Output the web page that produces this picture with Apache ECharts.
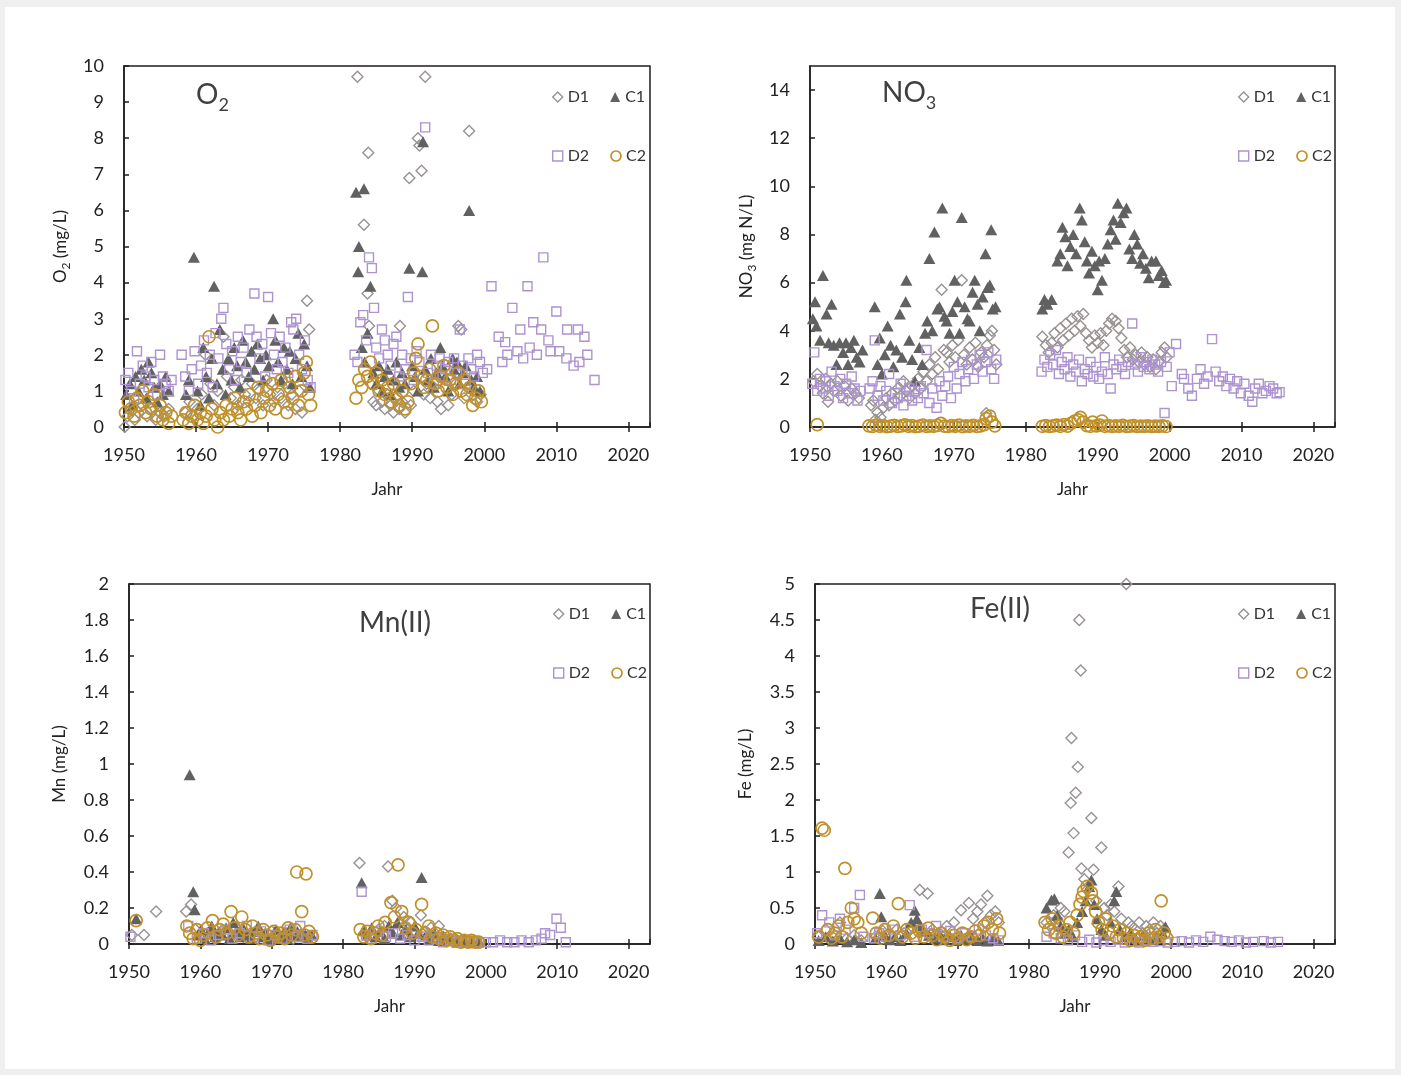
<!DOCTYPE html>
<html>
<head>
<meta charset="utf-8">
<script src="https://cdn.jsdelivr.net/npm/echarts@6/dist/echarts.min.js"></script>
<style>
html, body { margin: 0; padding: 0; background: #efefef; }
#chart { width: 1401px; height: 1075px; }
</style>
</head>
<body>
<div id="chart"></div>
<script>
// ---- O2 (mg/L) ----
const o2D1 = [
  [1950.1,0.0],[1950.5,0.3],[1951.0,0.5],[1951.5,0.2],[1952.0,0.4],[1952.6,0.6],[1953.2,0.3],[1953.8,0.5],[1954.4,0.2],[1955.0,0.4],[1955.6,0.3],[1956.2,0.5],
  [1958.5,0.4],[1959.1,0.7],[1959.6,0.3],[1960.2,0.5],[1960.8,0.9],[1961.3,2.0],[1962.0,1.2],[1962.5,0.6],[1963.0,1.0],[1963.8,2.5],[1964.3,1.4],[1964.8,0.8],[1965.3,1.1],[1965.8,0.6],[1966.3,1.3],[1966.8,0.9],[1967.3,0.7],[1967.8,1.2],[1968.3,0.8],[1968.8,1.0],[1969.3,0.6],[1969.8,1.3],[1970.3,0.9],[1970.8,0.7],[1971.3,1.1],[1971.8,0.8],[1972.3,1.2],[1972.8,0.6],[1973.3,0.9],[1973.8,0.5],[1974.3,1.0],[1974.7,0.4],[1975.4,3.5],[1975.7,2.7],
  [1982.4,9.7],[1983.3,5.6],[1983.8,3.7],[1983.9,7.6],[1984.0,2.8],[1984.2,1.2],[1984.6,0.7],[1985.0,0.6],[1985.4,1.0],[1985.8,0.7],[1986.2,0.5],[1986.6,0.9],[1987.0,0.6],[1987.4,0.4],[1987.8,0.8],[1988.2,0.5],[1988.3,2.8],[1988.6,0.7],[1989.0,0.4],[1989.6,6.9],[1989.8,0.6],[1990.2,1.0],[1990.8,8.0],[1991.0,7.8],[1991.3,7.1],[1991.8,9.7],[1991.6,0.9],[1992.0,1.2],[1992.5,0.8],[1993.0,1.1],[1993.5,0.7],[1994.0,0.5],[1994.5,1.3],[1995.0,0.6],[1995.5,0.9],[1996.0,1.2],[1996.4,2.8],[1996.8,2.7],[1997.2,0.8],[1997.9,8.2],[1998.4,1.0],[1999.0,0.7],[1999.5,0.9]
];
const o2C1 = [
  [1950.3,0.9],[1950.8,1.2],[1951.2,0.6],[1951.6,1.4],[1952.0,1.0],[1952.4,1.6],[1952.8,1.3],[1953.1,0.8],[1953.4,1.8],[1953.8,1.5],[1954.2,1.1],[1954.6,0.7],[1955.0,1.2],[1955.4,0.9],[1955.8,1.4],[1956.2,1.0],
  [1958.6,0.9],[1959.0,1.3],[1959.7,4.7],[1960.2,1.0],[1960.6,0.6],[1961.0,2.2],[1961.4,1.4],[1961.8,0.8],[1962.2,1.9],[1962.5,3.9],[1962.9,1.2],[1963.3,2.7],[1963.7,1.6],[1964.1,0.9],[1964.5,1.9],[1964.9,1.3],[1965.3,2.2],[1965.7,1.7],[1966.1,1.1],[1966.5,2.4],[1966.9,1.8],[1967.3,1.4],[1967.7,2.1],[1968.1,1.6],[1968.5,2.3],[1968.9,1.9],[1969.3,1.3],[1969.7,2.0],[1970.1,1.7],[1970.7,3.0],[1971.0,2.4],[1971.4,1.8],[1971.8,1.3],[1972.2,2.2],[1972.6,1.6],[1973.0,2.1],[1973.4,1.2],[1973.8,1.9],[1974.2,2.6],[1974.6,1.4],[1975.0,2.3],[1975.4,1.7],[1975.8,1.1],
  [1982.2,6.5],[1982.5,4.3],[1982.6,5.0],[1983.3,6.6],[1983.0,2.2],[1983.4,1.8],[1983.8,2.6],[1984.2,3.9],[1984.6,1.5],[1985.0,1.2],[1985.4,1.7],[1985.8,1.0],[1986.2,1.4],[1986.6,1.6],[1987.0,0.9],[1987.4,1.3],[1987.8,1.8],[1988.2,1.1],[1988.6,1.5],[1989.0,1.2],[1989.6,4.4],[1990.0,1.7],[1990.4,1.4],[1990.8,1.0],[1991.4,4.3],[1991.5,7.9],[1991.8,1.6],[1992.2,1.3],[1992.6,1.9],[1993.0,1.1],[1993.4,1.5],[1993.9,2.2],[1994.2,1.7],[1994.6,1.4],[1995.0,1.0],[1995.6,1.9],[1995.8,1.6],[1996.2,1.8],[1996.6,1.2],[1997.0,1.5],[1997.4,1.7],[1997.9,6.0],[1998.2,1.3],[1998.6,1.1],[1999.0,1.4],[1999.4,1.0]
];
const o2D2 = [
  [1950.2,1.3],[1950.6,1.5],[1951.0,1.0],[1951.4,0.8],[1951.8,2.1],[1952.2,1.2],[1952.6,1.7],[1953.0,1.4],[1953.4,1.1],[1953.8,1.8],[1954.2,1.3],[1954.6,0.9],[1955.0,2.0],[1955.4,1.4],[1955.8,1.2],[1956.2,1.0],[1956.6,1.3],
  [1958.0,2.0],[1958.5,1.4],[1959.0,1.0],[1959.4,1.6],[1959.8,2.1],[1960.3,1.2],[1960.7,1.7],[1961.1,2.4],[1961.5,1.5],[1961.9,2.0],[1962.3,1.1],[1962.7,2.6],[1963.1,1.9],[1963.5,3.0],[1963.8,3.3],[1964.2,2.3],[1964.6,1.6],[1965.0,2.1],[1965.4,1.3],[1965.8,2.5],[1966.2,1.8],[1966.6,2.2],[1967.0,1.5],[1967.4,2.7],[1968.1,3.7],[1968.4,2.5],[1968.8,1.9],[1969.2,2.3],[1969.6,1.4],[1970.0,3.6],[1970.4,2.6],[1970.8,2.0],[1971.2,1.6],[1971.6,2.5],[1972.0,1.8],[1972.4,2.2],[1972.8,1.5],[1973.2,2.9],[1973.5,2.7],[1973.9,3.0],[1974.3,2.0],[1974.7,1.6],[1975.1,2.4],[1975.5,1.3],[1975.9,1.1],
  [1982.0,2.0],[1982.4,1.8],[1982.8,2.9],[1983.2,3.1],[1983.6,2.4],[1984.0,4.7],[1984.4,4.4],[1984.7,3.3],[1985.0,2.2],[1985.4,1.9],[1985.8,2.7],[1986.2,2.4],[1986.6,2.0],[1987.0,1.7],[1987.4,2.3],[1987.8,2.5],[1988.2,1.4],[1988.6,2.0],[1989.0,1.6],[1989.4,3.6],[1989.8,1.9],[1990.2,1.3],[1990.6,2.1],[1991.0,1.8],[1991.8,8.3],[1992.2,1.5],[1992.6,2.0],[1993.0,1.2],[1993.4,1.7],[1993.8,1.9],[1994.2,1.4],[1994.6,1.6],[1995.0,1.8],[1995.4,1.3],[1995.8,1.9],[1996.2,1.5],[1996.6,2.7],[1997.0,1.7],[1997.4,1.2],[1997.8,1.9],[1998.2,1.6],[1998.6,1.4],[1999.0,2.0],[1999.4,1.8],[1999.8,1.5],
  [2000.4,1.6],[2001.0,3.9],[2002.0,2.5],[2002.5,1.8],[2002.9,2.35],[2003.2,2.0],[2003.9,3.3],[2004.6,2.1],[2005.0,2.7],[2005.4,1.9],[2006.0,3.9],[2006.3,2.2],[2006.8,2.9],[2007.3,2.0],[2007.9,2.7],[2008.2,4.7],[2008.9,2.4],[2009.2,2.1],[2010.0,3.2],[2010.4,2.1],[2011.4,1.9],[2011.5,2.7],[2012.4,1.7],[2013.0,2.7],[2013.2,1.8],[2013.9,2.5],[2014.3,2.0],[2015.3,1.3]
];
const o2C2 = [
  [1950.2,0.4],[1950.6,0.7],[1951.0,0.5],[1951.4,0.3],[1951.8,0.8],[1952.2,0.6],[1952.6,1.0],[1953.0,0.4],[1953.4,0.7],[1953.8,0.5],[1954.2,0.9],[1954.6,0.3],[1955.0,0.6],[1955.4,0.2],[1955.8,0.4],[1956.2,0.1],[1956.6,0.3],
  [1958.2,0.2],[1958.6,0.4],[1959.0,0.1],[1959.4,0.3],[1959.8,0.6],[1960.2,0.2],[1960.6,0.4],[1961.0,0.1],[1961.4,0.3],[1961.8,2.5],[1962.2,0.5],[1962.6,0.2],[1963.0,0.0],[1963.4,0.4],[1963.8,0.2],[1964.2,0.6],[1964.6,0.3],[1965.0,0.5],[1965.4,0.8],[1965.8,0.4],[1966.2,0.2],[1966.6,0.7],[1967.0,0.5],[1967.4,0.9],[1967.8,0.3],[1968.2,0.6],[1968.6,1.1],[1969.0,0.4],[1969.4,0.8],[1969.8,1.0],[1970.2,0.6],[1970.6,1.2],[1971.0,0.5],[1971.4,0.9],[1971.8,1.3],[1972.2,0.7],[1972.6,0.4],[1973.0,1.1],[1973.4,0.8],[1973.8,1.4],[1974.2,0.6],[1974.6,1.0],[1975.0,1.5],[1975.3,1.8],[1975.6,0.9],[1975.9,0.6],
  [1982.2,0.8],[1982.6,1.3],[1983.0,1.1],[1983.4,1.6],[1983.8,1.4],[1984.2,1.8],[1984.6,1.2],[1985.0,1.5],[1985.4,1.0],[1985.8,1.3],[1986.2,0.9],[1986.6,1.1],[1987.0,0.7],[1987.4,1.2],[1987.8,0.8],[1988.2,0.6],[1988.6,1.0],[1989.0,0.5],[1989.4,0.7],[1989.8,1.2],[1990.2,1.5],[1990.5,1.9],[1990.8,2.3],[1991.2,1.4],[1991.6,1.1],[1992.0,1.3],[1992.4,1.6],[1992.8,2.8],[1993.2,1.2],[1993.6,1.0],[1994.0,1.4],[1994.4,1.7],[1994.8,1.1],[1995.2,1.3],[1995.6,0.9],[1996.0,1.2],[1996.4,1.5],[1996.8,1.0],[1997.2,1.3],[1997.6,0.9],[1998.0,1.1],[1998.4,0.6],[1998.8,0.8],[1999.2,1.0],[1999.6,0.7]
];

// ---- NO3 (mg N/L) ----
const no3D1 = [
  [1950.5,1.9],[1951.0,2.2],[1951.4,1.7],[1951.8,1.4],[1952.2,2.0],[1952.5,1.05],[1952.9,1.8],[1953.3,1.5],[1953.8,1.9],[1954.3,1.3],[1954.8,1.7],[1955.3,1.1],[1955.8,1.6],[1956.3,1.4],[1956.8,1.2],
  [1958.5,0.9],[1958.8,1.1],[1959.1,0.3],[1959.4,0.6],[1959.8,0.4],[1960.2,0.8],[1960.6,1.2],[1961.0,0.9],[1961.4,1.4],[1961.8,1.1],[1962.2,1.6],[1962.6,1.3],[1963.0,1.9],[1963.4,1.5],[1963.8,1.2],[1964.2,1.7],[1964.6,1.4],[1965.0,2.0],[1965.4,1.6],[1965.8,2.3],[1966.2,1.9],[1966.6,2.6],[1967.0,2.2],[1967.4,2.9],[1967.8,2.4],[1968.3,5.7],[1968.6,3.2],[1969.0,3.1],[1969.4,2.7],[1969.8,3.4],[1970.2,2.9],[1970.6,3.6],[1971.1,6.1],[1971.4,3.0],[1971.8,2.6],[1972.2,3.3],[1972.6,2.8],[1973.0,3.5],[1973.4,2.5],[1973.8,3.1],[1974.2,2.9],[1974.5,0.57],[1974.6,3.4],[1975.0,3.8],[1975.3,4.0],[1975.6,3.2],[1975.9,2.6],
  [1982.3,3.75],[1982.8,3.4],[1983.2,3.1],[1983.6,3.5],[1984.0,3.9],[1984.4,3.3],[1984.8,4.1],[1985.2,3.6],[1985.6,4.3],[1986.0,3.8],[1986.4,4.5],[1986.8,4.0],[1987.2,4.6],[1987.6,4.2],[1988.0,4.7],[1988.4,3.9],[1988.8,3.6],[1989.2,3.3],[1989.6,3.8],[1990.0,3.5],[1990.4,3.9],[1990.8,3.4],[1991.2,4.0],[1991.6,4.3],[1992.0,4.5],[1992.5,4.4],[1992.9,4.1],[1993.3,3.7],[1993.7,3.2],[1994.1,2.9],[1994.5,3.3],[1994.9,2.8],[1995.3,3.0],[1995.7,2.7],[1996.1,3.1],[1996.5,2.6],[1996.9,2.9],[1997.3,2.5],[1997.7,2.8],[1998.1,2.4],[1998.5,2.7],[1998.9,3.1],[1999.3,3.3],[1999.6,2.9]
];
const no3C1 = [
  [1950.4,4.5],[1950.7,5.2],[1950.9,4.2],[1951.4,3.6],[1951.8,6.3],[1952.3,4.7],[1952.6,3.5],[1953.0,5.1],[1953.3,3.4],[1953.7,2.6],[1954.1,3.5],[1954.6,3.1],[1955.0,3.5],[1955.3,2.6],[1955.7,3.3],[1956.1,3.6],[1956.5,2.9],[1956.9,2.7],[1957.3,3.2],
  [1959.0,5.0],[1959.4,2.6],[1959.7,3.7],[1960.0,2.2],[1960.4,3.0],[1960.8,4.2],[1961.2,3.4],[1961.6,2.5],[1962.0,3.2],[1962.5,4.7],[1962.8,2.9],[1963.3,5.2],[1963.4,6.1],[1963.8,3.6],[1964.2,2.8],[1964.6,1.9],[1965.2,3.3],[1965.6,2.6],[1966.0,3.9],[1966.3,4.4],[1966.6,7.0],[1967.0,4.0],[1967.3,8.1],[1967.7,4.9],[1968.0,5.0],[1968.4,9.1],[1968.7,4.6],[1969.0,4.4],[1969.4,3.9],[1969.8,4.8],[1970.1,6.1],[1970.5,5.2],[1970.8,3.9],[1971.1,8.7],[1971.5,5.0],[1971.9,4.5],[1972.2,4.4],[1972.6,5.6],[1972.9,6.1],[1973.3,5.1],[1973.6,4.0],[1974.0,5.4],[1974.4,7.2],[1974.7,5.8],[1975.0,5.9],[1975.2,8.2],[1975.4,4.9],[1975.8,5.0],
  [1982.3,4.9],[1982.6,5.3],[1983.0,5.1],[1983.6,5.3],[1984.4,6.9],[1984.8,7.2],[1985.1,8.3],[1985.5,7.9],[1985.8,6.7],[1986.2,7.5],[1986.6,8.0],[1987.0,7.2],[1987.5,9.1],[1987.8,8.6],[1988.2,7.7],[1988.5,6.9],[1988.8,6.4],[1989.2,7.3],[1989.6,6.7],[1990.0,5.7],[1990.2,6.9],[1990.6,6.1],[1991.0,7.0],[1991.4,7.6],[1991.8,8.2],[1992.2,8.6],[1992.5,7.8],[1992.8,9.3],[1993.2,8.5],[1993.6,8.9],[1994.0,9.1],[1994.4,7.4],[1994.8,7.0],[1995.1,8.0],[1995.5,7.6],[1995.9,6.8],[1996.3,7.2],[1996.7,6.6],[1997.1,6.2],[1997.5,6.9],[1998.1,6.9],[1998.5,6.3],[1998.9,6.5],[1999.2,6.0],[1999.5,6.1]
];
const no3D2 = [
  [1950.3,1.8],[1950.6,3.1],[1951.0,1.5],[1951.4,2.0],[1951.8,1.6],[1952.2,1.9],[1952.6,1.3],[1953.0,2.3],[1953.4,1.7],[1953.8,1.5],[1954.2,2.0],[1954.6,1.2],[1955.0,1.8],[1955.4,1.4],[1955.8,2.1],[1956.2,1.6],[1956.6,1.1],[1957.0,1.5],
  [1958.3,1.6],[1958.7,1.9],[1959.0,3.6],[1959.4,1.3],[1959.8,1.7],[1960.2,1.1],[1960.6,1.5],[1961.0,2.2],[1961.4,1.0],[1961.8,1.4],[1962.2,1.2],[1962.6,1.8],[1963.0,0.9],[1963.4,1.3],[1963.8,1.6],[1964.2,1.1],[1964.6,1.5],[1965.0,1.2],[1965.4,1.7],[1965.8,1.4],[1966.2,3.2],[1966.6,1.0],[1967.0,1.6],[1967.6,0.8],[1968.0,1.9],[1968.4,1.3],[1968.8,1.7],[1969.2,2.1],[1969.6,1.2],[1970.0,2.5],[1970.4,1.6],[1970.8,2.2],[1971.2,2.7],[1971.6,1.9],[1972.0,2.4],[1972.4,2.8],[1972.8,2.0],[1973.2,2.6],[1973.6,3.0],[1974.0,2.3],[1974.4,2.7],[1974.8,3.1],[1975.2,2.4],[1975.6,2.0],[1975.9,2.8],
  [1982.2,2.3],[1982.6,2.8],[1983.0,2.5],[1983.4,3.0],[1983.8,2.6],[1984.2,3.2],[1984.6,2.2],[1985.0,2.7],[1985.4,2.4],[1985.8,2.9],[1986.2,2.1],[1986.6,2.6],[1987.0,2.3],[1987.4,2.8],[1987.8,1.9],[1988.2,2.4],[1988.6,2.2],[1989.0,2.7],[1989.4,2.1],[1989.8,2.5],[1990.2,2.0],[1990.6,2.3],[1991.0,2.9],[1991.4,2.2],[1991.8,1.6],[1992.2,2.6],[1992.6,2.4],[1993.0,2.8],[1993.4,2.5],[1993.8,2.2],[1994.2,2.7],[1994.8,4.3],[1995.2,2.6],[1995.6,2.3],[1996.0,2.9],[1996.4,2.5],[1996.8,2.7],[1997.2,2.4],[1997.6,2.8],[1998.0,2.6],[1998.4,2.3],[1998.8,2.7],[1999.3,0.58],[1999.6,2.5],[2000.0,3.1],
  [2000.3,1.7],[2000.9,3.45],[2001.7,2.2],[2002.0,2.0],[2002.6,1.6],[2003.1,1.3],[2003.8,2.0],[2004.3,2.4],[2004.8,1.8],[2005.3,2.1],[2005.9,3.65],[2006.4,2.3],[2006.9,1.9],[2007.4,2.1],[2007.9,1.7],[2008.4,2.0],[2008.9,1.6],[2009.4,1.9],[2009.9,1.4],[2010.4,1.8],[2011.0,1.3],[2011.5,1.05],[2011.9,1.6],[2012.4,1.8],[2012.9,1.4],[2013.4,1.5],[2013.9,1.7],[2014.4,1.6],[2014.9,1.4],[2015.3,1.45]
];
const no3C2 = [
  [1951.0,0.1],
  [1958.2,0.05],[1958.7,0.02],[1959.2,0.08],[1959.7,0.03],[1960.2,0.06],[1960.7,0.01],[1961.2,0.04],[1961.7,0.07],[1962.2,0.02],[1962.7,0.05],[1963.2,0.09],[1963.7,0.03],[1964.2,0.06],[1964.7,0.01],[1965.2,0.04],[1965.7,0.08],[1966.2,0.02],[1966.7,0.05],[1967.2,0.03],[1967.7,0.07],[1968.2,0.15],[1968.7,0.04],[1969.2,0.02],[1969.7,0.06],[1970.2,0.03],[1970.7,0.08],[1971.2,0.01],[1971.7,0.05],[1972.2,0.03],[1972.7,0.07],[1973.2,0.02],[1973.7,0.05],[1974.2,0.1],[1974.5,0.35],[1975.0,0.45],[1975.3,0.2],[1975.7,0.05],
  [1982.3,0.03],[1982.8,0.06],[1983.3,0.02],[1983.8,0.05],[1984.3,0.08],[1984.8,0.03],[1985.3,0.1],[1985.8,0.04],[1986.3,0.15],[1986.8,0.25],[1987.3,0.3],[1987.6,0.4],[1988.0,0.2],[1988.5,0.06],[1989.0,0.03],[1989.3,0.2],[1989.8,0.05],[1990.3,0.08],[1990.6,0.25],[1991.0,0.03],[1991.5,0.06],[1992.0,0.02],[1992.5,0.05],[1993.0,0.03],[1993.5,0.07],[1994.0,0.02],[1994.5,0.04],[1995.0,0.06],[1995.5,0.02],[1996.0,0.04],[1996.5,0.03],[1997.0,0.05],[1997.5,0.02],[1998.0,0.04],[1998.5,0.03],[1999.0,0.05],[1999.5,0.02]
];

// ---- Mn (mg/L) ----
const mnD1 = [
  [1950.4,0.05],[1952.1,0.05],[1953.8,0.18],[1958.0,0.18],[1958.7,0.22],[1959.3,0.08],[1960.2,0.04],[1961.0,0.06],[1962.0,0.03],[1963.0,0.07],[1964.0,0.05],[1965.0,0.09],[1966.0,0.04],[1967.0,0.06],[1968.0,0.03],[1969.0,0.05],[1970.0,0.07],[1971.0,0.04],[1972.0,0.06],[1973.0,0.03],[1974.0,0.05],[1975.0,0.04],
  [1982.3,0.45],[1983.0,0.06],[1984.0,0.04],[1985.0,0.08],[1985.8,0.1],[1986.3,0.43],[1986.9,0.24],[1987.4,0.2],[1988.0,0.12],[1988.5,0.15],[1989.0,0.08],[1989.5,0.12],[1990.0,0.06],[1990.9,0.16],[1991.5,0.07],[1992.3,0.09],[1993.4,0.1],[1994.0,0.04],[1995.0,0.03],[1996.0,0.02],[1997.0,0.02],[1998.0,0.01]
];
const mnC1 = [
  [1951.0,0.14],[1958.5,0.94],[1959.0,0.29],[1959.2,0.19],[1959.6,0.05],[1960.1,0.08],[1960.6,0.03],[1961.1,0.06],[1961.6,0.1],[1962.1,0.04],[1962.6,0.07],[1963.1,0.05],[1963.6,0.09],[1964.1,0.03],[1964.6,0.12],[1965.1,0.06],[1965.6,0.04],[1966.1,0.08],[1966.6,0.05],[1967.1,0.03],[1967.6,0.07],[1968.1,0.1],[1968.6,0.04],[1969.1,0.06],[1969.6,0.03],[1970.1,0.05],[1970.6,0.08],[1971.1,0.04],[1971.6,0.06],[1972.1,0.03],[1972.6,0.09],[1973.1,0.05],[1973.6,0.07],[1974.1,0.04],[1974.6,0.06],[1975.1,0.03],[1975.6,0.05],
  [1982.6,0.34],[1982.9,0.08],[1983.4,0.05],[1984.0,0.09],[1984.6,0.04],[1985.2,0.07],[1985.8,0.03],[1986.4,0.1],[1987.0,0.06],[1987.6,0.12],[1988.2,0.05],[1988.8,0.08],[1989.4,0.04],[1990.0,0.1],[1990.5,0.06],[1991.0,0.37],[1991.6,0.05],[1992.2,0.03],[1992.8,0.06],[1993.4,0.02],[1994.0,0.04],[1994.6,0.02],[1995.2,0.03],[1996.0,0.01],[1997.0,0.02],[1998.0,0.01],[1999.0,0.02]
];
const mnD2 = [
  [1950.2,0.04],[1958.3,0.1],[1959.5,0.03],[1960.5,0.06],[1961.5,0.02],[1962.5,0.05],[1963.5,0.08],[1964.5,0.03],[1965.5,0.06],[1966.5,0.1],[1967.5,0.04],[1968.5,0.07],[1969.5,0.02],[1970.5,0.05],[1971.5,0.03],[1972.5,0.08],[1973.5,0.04],[1974.0,0.1],[1975.0,0.03],[1975.7,0.05],
  [1982.6,0.29],[1983.2,0.05],[1984.0,0.03],[1985.0,0.07],[1986.0,0.04],[1987.0,0.06],[1988.0,0.03],[1989.0,0.05],[1990.0,0.02],[1991.0,0.04],[1992.0,0.02],[1993.0,0.03],[1994.0,0.01],[1995.0,0.02],[1996.0,0.01],[1997.0,0.01],[1998.0,0.02],[1999.0,0.01],[2000.0,0.01],
  [2001.0,0.01],[2002.0,0.02],[2003.0,0.01],[2004.0,0.01],[2005.0,0.02],[2006.0,0.01],[2007.0,0.02],[2007.8,0.03],[2008.3,0.06],[2009.0,0.05],[2009.9,0.14],[2010.5,0.09],[2011.2,0.01]
];
const mnC2 = [
  [1951.0,0.13],[1958.1,0.1],[1958.5,0.06],[1959.0,0.03],[1959.5,0.08],[1960.0,0.02],[1960.5,0.05],[1961.0,0.09],[1961.7,0.13],[1962.2,0.04],[1962.7,0.08],[1963.2,0.11],[1963.7,0.06],[1964.3,0.18],[1964.8,0.09],[1965.3,0.05],[1965.8,0.15],[1966.3,0.08],[1966.8,0.04],[1967.3,0.1],[1967.8,0.06],[1968.3,0.03],[1968.8,0.08],[1969.3,0.05],[1969.8,0.02],[1970.3,0.07],[1970.8,0.04],[1971.3,0.06],[1971.8,0.03],[1972.3,0.09],[1972.8,0.05],[1973.3,0.08],[1973.5,0.40],[1974.2,0.18],[1974.6,0.05],[1974.8,0.39],[1975.2,0.07],[1975.7,0.04],
  [1982.4,0.08],[1982.9,0.04],[1983.4,0.07],[1983.9,0.03],[1984.4,0.06],[1984.9,0.1],[1985.4,0.05],[1985.9,0.12],[1986.7,0.23],[1987.2,0.15],[1987.7,0.44],[1988.2,0.18],[1988.7,0.09],[1989.2,0.12],[1989.7,0.06],[1990.2,0.08],[1991.0,0.22],[1991.5,0.06],[1992.0,0.1],[1992.5,0.04],[1993.0,0.06],[1993.5,0.03],[1994.0,0.05],[1994.5,0.02],[1995.0,0.04],[1995.5,0.02],[1996.0,0.03],[1996.5,0.01],[1997.0,0.02],[1997.5,0.01],[1998.0,0.02],[1998.5,0.01],[1999.0,0.01]
];

// ---- Fe (mg/L) ----
const feD1 = [
  [1950.5,0.1],[1951.5,0.2],[1952.5,0.15],[1953.5,0.3],[1954.5,0.08],[1955.5,0.12],[1956.5,0.05],
  [1958.5,0.1],[1959.5,0.18],[1960.5,0.12],[1961.5,0.2],[1962.5,0.15],[1963.5,0.25],[1964.7,0.75],[1965.8,0.7],[1966.5,0.2],[1967.5,0.15],[1968.5,0.25],[1969.5,0.3],[1970.5,0.47],[1971.6,0.57],[1972.2,0.35],[1972.8,0.45],[1973.3,0.55],[1973.8,0.3],[1974.2,0.67],[1974.7,0.4],[1975.3,0.45],[1975.8,0.3],
  [1982.5,0.3],[1983.0,0.25],[1983.5,0.4],[1984.0,0.35],[1984.5,0.5],[1985.0,0.45],[1985.6,1.27],[1985.9,1.96],[1986.0,2.86],[1986.3,1.54],[1986.6,2.1],[1986.9,2.46],[1987.1,4.5],[1987.3,3.8],[1987.4,1.05],[1987.8,0.9],[1988.2,0.75],[1988.8,1.75],[1989.1,1.03],[1989.5,0.6],[1990.2,1.34],[1990.6,0.5],[1991.0,0.4],[1991.5,0.55],[1992.0,0.45],[1992.6,0.8],[1993.0,0.35],[1993.7,5.0],[1994.0,0.3],[1994.5,0.25],[1995.0,0.2],[1995.5,0.3],[1996.0,0.15],[1996.5,0.25],[1997.0,0.2],[1997.5,0.3],[1998.0,0.15],[1998.5,0.25],[1999.0,0.2]
];
const feC1 = [
  [1950.5,0.05],[1951.5,0.1],[1952.5,0.04],[1953.5,0.08],[1954.5,0.03],[1955.5,0.06],[1956.5,0.02],
  [1958.5,0.08],[1959.1,0.7],[1959.3,0.38],[1959.8,0.12],[1960.5,0.06],[1961.2,0.1],[1962.0,0.05],[1962.8,0.15],[1963.5,0.3],[1964.0,0.47],[1964.3,0.35],[1964.8,0.25],[1965.3,0.18],[1966.0,0.12],[1966.8,0.08],[1967.5,0.14],[1968.2,0.06],[1969.0,0.1],[1969.8,0.05],[1970.5,0.12],[1971.2,0.07],[1972.0,0.1],[1972.8,0.05],[1973.5,0.09],[1974.2,0.04],[1975.0,0.08],[1975.7,0.05],
  [1982.5,0.5],[1983.2,0.61],[1983.6,0.63],[1984.0,0.4],[1984.5,0.25],[1985.0,0.15],[1985.6,0.2],[1986.2,0.1],[1986.8,0.3],[1987.5,0.45],[1988.0,0.6],[1988.5,0.8],[1988.8,0.89],[1989.2,0.55],[1989.6,0.35],[1990.2,0.2],[1990.8,0.12],[1991.5,0.3],[1992.0,0.6],[1992.3,0.73],[1992.8,0.2],[1993.5,0.1],[1994.2,0.15],[1995.0,0.08],[1996.0,0.12],[1997.0,0.06],[1998.0,0.1],[1998.8,0.15],[1999.2,0.24]
];
const feD2 = [
  [1950.3,0.15],[1951.0,0.4],[1952.0,0.3],[1952.8,0.12],[1953.5,0.35],[1954.3,0.2],[1955.5,0.5],[1956.3,0.68],[1956.8,0.1],
  [1958.3,0.08],[1959.0,0.15],[1960.0,0.1],[1961.0,0.2],[1962.0,0.12],[1963.3,0.54],[1964.0,0.1],[1965.0,0.2],[1966.0,0.15],[1967.0,0.25],[1968.0,0.1],[1969.0,0.18],[1970.0,0.08],[1971.0,0.15],[1972.0,0.1],[1973.0,0.2],[1974.0,0.12],[1975.0,0.08],[1975.8,0.05],
  [1982.5,0.1],[1983.5,0.15],[1984.5,0.08],[1985.5,0.05],[1986.5,0.12],[1987.5,0.03],[1988.5,0.06],[1989.5,0.02],[1990.5,0.05],[1991.5,0.03],[1992.5,0.06],[1993.5,0.02],[1994.5,0.04],[1995.5,0.02],[1996.5,0.05],[1997.5,0.03],[1998.5,0.04],[1999.5,0.02],
  [2000.5,0.03],[2001.5,0.04],[2002.5,0.02],[2003.5,0.05],[2004.5,0.03],[2005.5,0.1],[2006.5,0.06],[2007.5,0.04],[2008.5,0.03],[2009.5,0.05],[2010.5,0.02],[2011.5,0.03],[2013.0,0.04],[2014.0,0.02],[2015.0,0.03]
];
const feC2 = [
  [1950.5,0.1],[1951.0,1.61],[1951.3,1.58],[1951.8,0.2],[1952.3,0.08],[1952.8,0.15],[1953.3,0.25],[1953.8,0.1],[1954.2,1.05],[1954.6,0.3],[1955.1,0.5],[1955.5,0.35],[1956.0,0.3],[1956.5,0.15],
  [1958.1,0.36],[1958.6,0.15],[1959.2,0.08],[1959.8,0.2],[1960.4,0.12],[1961.0,0.25],[1961.7,0.56],[1962.3,0.1],[1962.9,0.2],[1963.5,0.15],[1964.1,0.08],[1964.7,0.18],[1965.3,0.1],[1965.9,0.22],[1966.5,0.12],[1967.1,0.06],[1967.7,0.15],[1968.3,0.1],[1968.9,0.05],[1969.5,0.12],[1970.1,0.08],[1970.7,0.15],[1971.3,0.06],[1971.9,0.1],[1972.5,0.18],[1973.1,0.12],[1973.7,0.25],[1974.3,0.3],[1974.9,0.2],[1975.5,0.35],[1975.9,0.15],
  [1982.3,0.3],[1982.8,0.2],[1983.3,0.35],[1983.8,0.15],[1984.3,0.25],[1984.8,0.1],[1985.3,0.2],[1985.8,0.3],[1986.3,0.15],[1986.8,0.4],[1987.2,0.55],[1987.5,0.65],[1987.7,0.73],[1988.2,0.8],[1988.8,0.71],[1989.0,0.6],[1989.4,0.45],[1989.8,0.3],[1990.3,0.2],[1990.8,0.35],[1991.3,0.15],[1991.8,0.25],[1992.3,0.1],[1992.8,0.2],[1993.3,0.08],[1993.8,0.15],[1994.3,0.05],[1994.8,0.12],[1995.3,0.06],[1995.8,0.1],[1996.3,0.05],[1996.8,0.15],[1997.3,0.08],[1997.8,0.2],[1998.3,0.1],[1998.6,0.6],[1999.0,0.15],[1999.4,0.08]
];

const seriesNames = ['D1', 'C1', 'D2', 'C2'];
const yearTicks = { min: 1950, max: 2023, step: 10 };

const colD1 = '#999292', colC1 = '#616161', colD2 = '#ad93d0', colC2 = '#c0912a';
const font = 'Lato, "Open Sans", sans-serif';
const ink = '#1e1e1e';

// symbol style per series (D1, C1, D2, C2)
const marks = [
  { symbol: 'diamond', size: 11, itemStyle: { color: 'rgba(0,0,0,0)', borderColor: colD1, borderWidth: 1.4 } },
  { symbol: 'triangle', size: [12, 11], itemStyle: { color: colC1 } },
  { symbol: 'rect', size: 9, itemStyle: { color: 'rgba(0,0,0,0)', borderColor: colD2, borderWidth: 1.4 } },
  { symbol: 'circle', size: 12, itemStyle: { color: 'rgba(0,0,0,0)', borderColor: colC2, borderWidth: 1.7 } }
];

const subRich = {
  n: { fontSize: 17, fontFamily: font, color: '#222', lineHeight: 20, verticalAlign: 'top' },
  s: { fontSize: 12, fontFamily: font, color: '#222', lineHeight: 14, verticalAlign: 'top', padding: [8, 0, 0, 0] }
};
const titleRich = {
  t: { fontSize: 28, fontFamily: font, fontWeight: 'normal', color: '#404040', lineHeight: 34, verticalAlign: 'top' },
  u: { fontSize: 18, fontFamily: font, fontWeight: 'normal', color: '#404040', lineHeight: 20, verticalAlign: 'top', padding: [15, 0, 0, 0] }
};

const panels = [
  { grid: { left: 124, top: 66, width: 526, height: 361 }, yMax: 10, yStep: 1, data: [o2D1, o2C1, o2D2, o2C2],
    yName: '{n|O}{s|2}{n| (mg/L)}', title: '{t|O}{u|2}', titleAt: [196, 81], legendAt: [552, 89] },
  { grid: { left: 810, top: 66, width: 525, height: 361 }, yMax: 15, yStep: 2, data: [no3D1, no3C1, no3D2, no3C2],
    yName: '{n|NO}{s|3}{n| (mg N/L)}', title: '{t|NO}{u|3}', titleAt: [882, 79], legendAt: [1238, 89] },
  { grid: { left: 129, top: 584, width: 521, height: 360 }, yMax: 2, yStep: 0.2, data: [mnD1, mnC1, mnD2, mnC2],
    yName: '{n|Mn (mg/L)}', title: '{t|Mn(II)}', titleAt: [359, 609], legendAt: [553, 606] },
  { grid: { left: 815, top: 584, width: 520, height: 360 }, yMax: 5, yStep: 0.5, data: [feD1, feC1, feD2, feC2],
    yName: '{n|Fe (mg/L)}', title: '{t|Fe(II)}', titleAt: [970, 595], legendAt: [1238, 606] }
];

function legendItem(i) {
  return { name: seriesNames[i], icon: marks[i].symbol, itemStyle: marks[i].itemStyle };
}

const grids = [], xAxes = [], yAxes = [], series = [], legends = [], titles = [];

panels.forEach(function (p, i) {
  grids.push(Object.assign({ show: true, borderColor: ink, borderWidth: 1.5, backgroundColor: '#fff' }, p.grid));

  // main x axis: labels + outward ticks
  xAxes.push({
    gridIndex: i, type: 'value', position: 'bottom',
    min: yearTicks.min, max: yearTicks.max, interval: yearTicks.step,
    name: 'Jahr', nameLocation: 'middle', nameGap: 54,
    nameTextStyle: { fontSize: 17, fontFamily: font, color: '#222' },
    axisLine: { lineStyle: { color: ink, width: 1.5 } },
    axisTick: { length: 5, lineStyle: { color: ink, width: 1.5 } },
    axisLabel: { margin: 19, showMaxLabel: false, fontSize: 18, fontFamily: font, color: '#222',
      formatter: function (v) { return String(v); } },
    splitLine: { show: false }
  });
  // second x axis on same line: inward ticks so they cross the axis
  xAxes.push({
    gridIndex: i, type: 'value', position: 'bottom',
    min: yearTicks.min, max: yearTicks.max, interval: yearTicks.step,
    axisLine: { show: false },
    axisTick: { inside: true, length: 5, lineStyle: { color: ink, width: 1.5 } },
    axisLabel: { show: false },
    splitLine: { show: false }
  });

  yAxes.push({
    gridIndex: i, type: 'value', min: 0, max: p.yMax, interval: p.yStep,
    name: p.yName, nameLocation: 'middle', nameGap: i >= 2 ? 58 : 52,
    nameTextStyle: { rich: subRich },
    axisLine: { lineStyle: { color: ink, width: 1.5 } },
    axisTick: { inside: true, length: 5, lineStyle: { color: ink, width: 1.5 } },
    axisLabel: { margin: 20, showMaxLabel: p.yMax !== 15, fontSize: 18, fontFamily: font, color: '#222' },
    splitLine: { show: false }
  });

  p.data.forEach(function (d, k) {
    series.push({
      type: 'scatter', name: seriesNames[k],
      xAxisIndex: i * 2, yAxisIndex: i,
      data: d,
      symbol: marks[k].symbol, symbolSize: marks[k].size,
      itemStyle: Object.assign({ opacity: 1 }, marks[k].itemStyle),
      emphasis: { disabled: true },
      z: 2 + k
    });
  });

  [[0, 1], [2, 3]].forEach(function (pair, row) {
    legends.push({
      left: p.legendAt[0], top: p.legendAt[1] + row * 59,
      padding: 0, itemWidth: 10, itemHeight: 10, itemGap: 21,
      selectedMode: false,
      textStyle: { fontSize: 16, fontFamily: font, color: '#333' },
      data: pair.map(legendItem)
    });
  });

  titles.push({
    left: p.titleAt[0], top: p.titleAt[1], padding: 0,
    text: p.title, textStyle: { fontWeight: 'normal', rich: titleRich }
  });
});

const chart = echarts.init(document.getElementById('chart'));
chart.setOption({
  backgroundColor: '#efefef',
  animation: false,
  graphic: [{ type: 'rect', z: -10, shape: { x: 5, y: 7, width: 1390, height: 1062 }, style: { fill: '#fff' } }],
  title: titles,
  legend: legends,
  grid: grids,
  xAxis: xAxes,
  yAxis: yAxes,
  series: series
});
</script>
</body>
</html>
